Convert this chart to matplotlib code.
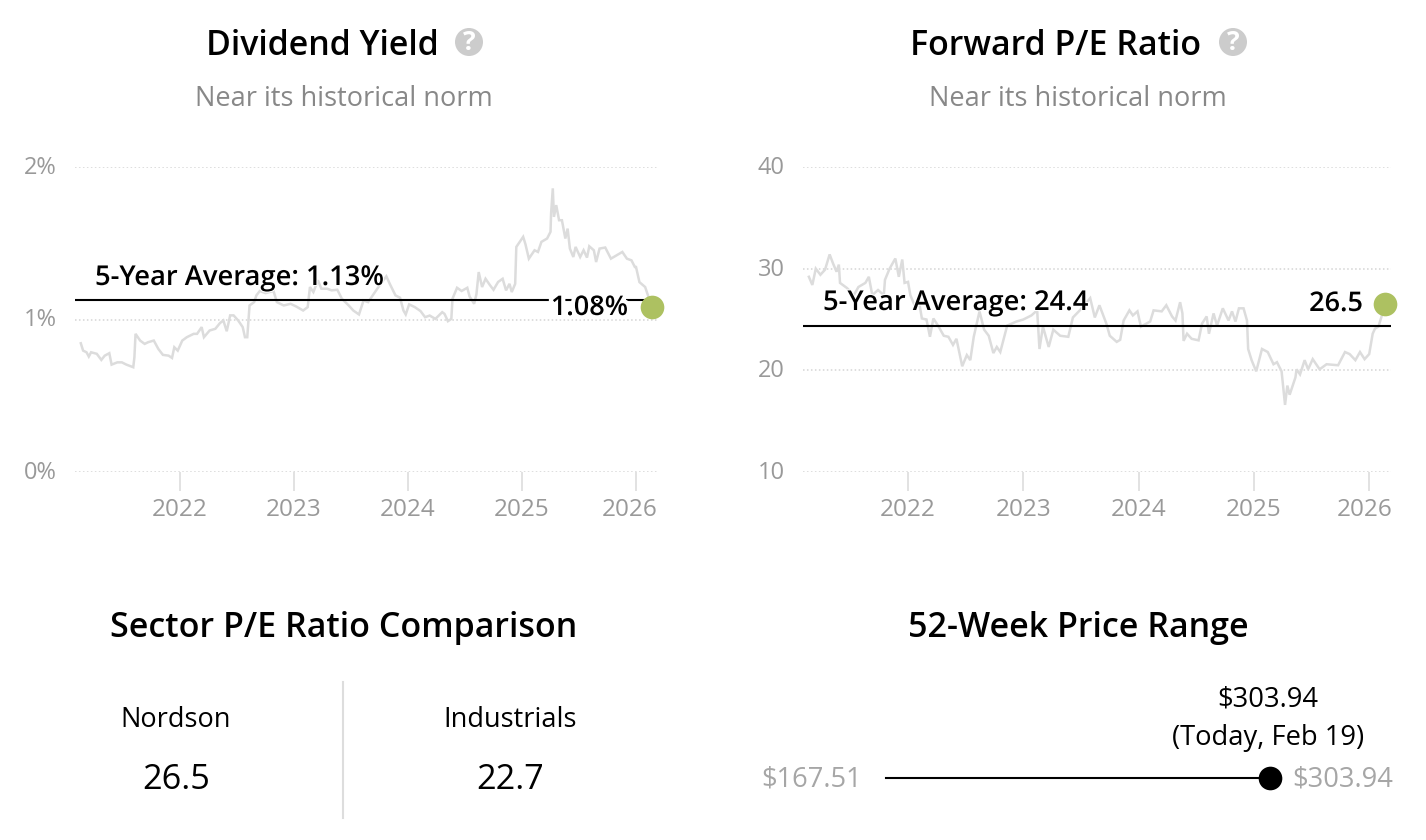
import matplotlib
matplotlib.use("Agg")
import matplotlib.pyplot as plt
import matplotlib.patheffects as pe
from matplotlib.patches import Circle
from matplotlib.transforms import ScaledTranslation

W = 1426
H = 840

plt.rcParams['font.family'] = ['Open Sans', 'DejaVu Sans']

years = [2022, 2023, 2024, 2025, 2026]

# dividend yield
div_dates = [2021.13, 2021.15, 2021.18, 2021.20, 2021.22, 2021.27, 2021.31, 2021.34, 2021.38, 2021.40,
             2021.45, 2021.49, 2021.53, 2021.59, 2021.60, 2021.61, 2021.65, 2021.69, 2021.72, 2021.77,
             2021.81, 2021.85, 2021.90, 2021.93, 2021.95, 2021.98, 2022.02, 2022.06, 2022.12, 2022.15,
             2022.19, 2022.21, 2022.26, 2022.31, 2022.35, 2022.38, 2022.41, 2022.44, 2022.47, 2022.51,
             2022.55, 2022.57, 2022.59, 2022.61, 2022.65, 2022.67, 2022.70, 2022.75, 2022.82, 2022.85,
             2022.91, 2022.97, 2023.02, 2023.08, 2023.12, 2023.14, 2023.17, 2023.21, 2023.24, 2023.29,
             2023.33, 2023.38, 2023.42, 2023.48, 2023.52, 2023.57, 2023.61, 2023.65, 2023.70, 2023.76,
             2023.81, 2023.84, 2023.89, 2023.93, 2023.96, 2023.98, 2024.01, 2024.06, 2024.11, 2024.15,
             2024.19, 2024.24, 2024.30, 2024.32, 2024.35, 2024.38, 2024.39, 2024.43, 2024.47, 2024.52,
             2024.54, 2024.58, 2024.60, 2024.62, 2024.65, 2024.68, 2024.72, 2024.75, 2024.79, 2024.83,
             2024.86, 2024.89, 2024.91, 2024.94, 2024.95, 2025.01, 2025.03, 2025.06, 2025.11, 2025.14,
             2025.17, 2025.22, 2025.25, 2025.255, 2025.27, 2025.28, 2025.30, 2025.325, 2025.35, 2025.38,
             2025.40, 2025.42, 2025.45, 2025.47, 2025.51, 2025.54, 2025.57, 2025.59, 2025.63, 2025.65,
             2025.68, 2025.73, 2025.78, 2025.83, 2025.88, 2025.92, 2025.96, 2025.99, 2026.00, 2026.03,
             2026.08, 2026.14]
div_values = [0.844, 0.796, 0.785, 0.757, 0.785, 0.775, 0.735, 0.763, 0.779, 0.704,
              0.719, 0.719, 0.704, 0.687, 0.752, 0.906, 0.862, 0.840, 0.851, 0.862,
              0.807, 0.768, 0.763, 0.748, 0.818, 0.796, 0.862, 0.884, 0.906, 0.906,
              0.950, 0.884, 0.928, 0.939, 0.976, 0.994, 0.923, 1.027, 1.027, 0.994,
              0.950, 0.884, 0.884, 1.092, 1.114, 1.158, 1.187, 1.173, 1.187, 1.114,
              1.092, 1.103, 1.085, 1.059, 1.081, 1.213, 1.180, 1.257, 1.202, 1.202,
              1.191, 1.195, 1.136, 1.092, 1.059, 1.033, 1.125, 1.114, 1.169, 1.234,
              1.283, 1.234, 1.158, 1.143, 1.059, 1.033, 1.099, 1.081, 1.055, 1.015,
              1.026, 1.004, 1.048, 1.037, 0.989, 1.004, 1.136, 1.208, 1.187, 1.208,
              1.151, 1.103, 1.165, 1.311, 1.213, 1.267, 1.224, 1.195, 1.246, 1.267,
              1.191, 1.234, 1.180, 1.234, 1.476, 1.542, 1.494, 1.399, 1.454, 1.443,
              1.509, 1.531, 1.575, 1.695, 1.860, 1.673, 1.750, 1.651, 1.651, 1.531,
              1.596, 1.465, 1.410, 1.476, 1.410, 1.454, 1.406, 1.480, 1.454, 1.377,
              1.465, 1.472, 1.399, 1.421, 1.443, 1.399, 1.388, 1.344, 1.344, 1.245,
              1.213, 1.08]
div_avg = 1.13
div_ticks = [0, 1, 2]
div_ticklabels = ['0%', '1%', '2%']

# forward p/e
pe_dates = [2021.14, 2021.17, 2021.20, 2021.24, 2021.28, 2021.32, 2021.35, 2021.38, 2021.40, 2021.41,
            2021.47, 2021.53, 2021.57, 2021.63, 2021.66, 2021.69, 2021.74, 2021.79, 2021.80, 2021.84,
            2021.89, 2021.92, 2021.95, 2021.97, 2022.00, 2022.02, 2022.06, 2022.09, 2022.12, 2022.16,
            2022.19, 2022.22, 2022.26, 2022.31, 2022.35, 2022.39, 2022.42, 2022.47, 2022.51, 2022.54,
            2022.57, 2022.62, 2022.66, 2022.70, 2022.74, 2022.77, 2022.80, 2022.86, 2022.94, 2023.00,
            2023.07, 2023.12, 2023.14, 2023.17, 2023.22, 2023.26, 2023.32, 2023.39, 2023.43, 2023.49,
            2023.58, 2023.62, 2023.66, 2023.72, 2023.75, 2023.81, 2023.84, 2023.87, 2023.92, 2023.95,
            2023.99, 2024.02, 2024.10, 2024.13, 2024.20, 2024.24, 2024.29, 2024.32, 2024.36, 2024.38,
            2024.39, 2024.42, 2024.46, 2024.52, 2024.55, 2024.59, 2024.61, 2024.65, 2024.68, 2024.73,
            2024.78, 2024.81, 2024.84, 2024.87, 2024.91, 2024.94, 2024.95, 2024.98, 2025.02, 2025.07,
            2025.12, 2025.17, 2025.20, 2025.24, 2025.255, 2025.27, 2025.29, 2025.31, 2025.36, 2025.37,
            2025.40, 2025.44, 2025.47, 2025.51, 2025.57, 2025.63, 2025.73, 2025.79, 2025.83, 2025.88,
            2025.92, 2025.96, 2026.00, 2026.03, 2026.05, 2026.08, 2026.11, 2026.14]
pe_values = [29.2, 28.4, 30.0, 29.4, 29.9, 31.4, 30.5, 29.7, 30.4, 28.6,
             28.1, 27.4, 28.2, 28.6, 29.2, 27.4, 27.9, 27.4, 28.9, 30.0,
             31.0, 29.2, 30.9, 28.6, 28.7, 27.4, 26.3, 27.1, 25.1, 25.0,
             23.3, 25.1, 24.4, 23.4, 23.3, 22.5, 23.1, 20.4, 21.5, 21.0,
             23.3, 25.8, 24.0, 23.4, 21.7, 22.3, 21.8, 24.4, 24.8, 25.0,
             25.4, 25.9, 22.1, 24.3, 22.3, 24.0, 23.4, 23.3, 25.2, 25.9,
             27.1, 25.2, 26.4, 24.6, 23.4, 22.8, 23.0, 24.9, 25.9, 25.4,
             25.8, 24.3, 24.8, 25.9, 25.8, 26.4, 25.3, 24.9, 26.7, 25.6,
             22.9, 23.6, 23.1, 22.95, 24.6, 25.3, 23.6, 25.6, 24.4, 26.1,
             24.9, 25.8, 24.8, 26.1, 26.1, 24.9, 22.1, 21.0, 19.9, 22.1,
             21.8, 20.6, 20.8, 19.9, 18.3, 16.6, 18.5, 17.6, 19.3, 20.1,
             19.6, 21.0, 20.1, 21.1, 20.1, 20.6, 20.5, 21.8, 21.6, 21.0,
             21.8, 21.1, 21.6, 23.6, 24.1, 24.3, 25.4, 26.5]
pe_avg = 24.4
pe_ticks = [10, 20, 30, 40]
pe_ticklabels = ['10', '20', '30', '40']

sector_names = ['Nordson', 'Industrials']
sector_pe = [26.5, 22.7]

price_low = 167.51
price_high = 303.94
price_now = 303.94

TICK_GRAY = '#999999'
LINE_GRAY = '#dcdcdc'
GRID_GRAY = '#d4d4d4'
DOT_GREEN = '#adc161'
halo = [pe.withStroke(linewidth=6, foreground='white')]
thin_halo = [pe.withStroke(linewidth=1.5, foreground='white')]


def add_px_axes(fig, left, top, right, bottom):
    return fig.add_axes([left / W, 1 - bottom / H, (right - left) / W, (bottom - top) / H])


def draw_history(fig, box, dates, values, avg, ticks, ticklabels, xlim, ylim, last_shift):
    ax = add_px_axes(fig, *box)
    ax.patch.set_alpha(0)
    ax.plot(dates, values, color=LINE_GRAY, lw=1.8, zorder=1, solid_joinstyle='miter')
    ax.axhline(avg, color='black', lw=1.5, zorder=2)
    ax.scatter([dates[-1]], [values[-1]], s=290, color=DOT_GREEN, zorder=5, clip_on=False, linewidths=0)
    ax.set_xlim(xlim)
    ax.set_ylim(ylim)
    for s in ax.spines.values():
        s.set_visible(False)
    ax.set_yticks(ticks)
    ax.set_yticklabels(ticklabels)
    ax.grid(axis='y', color=GRID_GRAY, lw=1.1, ls=(0, (1, 1.6)), zorder=0)
    ax.set_axisbelow(True)
    ax.tick_params(axis='y', length=0, pad=13, labelsize=17, labelcolor=TICK_GRAY)
    for lab in ax.get_yticklabels():
        lab.set_transform(lab.get_transform() + ScaledTranslation(0, 2 / 100, fig.dpi_scale_trans))
    ax.set_xticks(years)
    ax.set_xticklabels([str(y) for y in years])
    ax.tick_params(axis='x', length=13.5, width=1.4, color='#e2e2e2', pad=5, labelsize=17.5,
                   labelcolor=TICK_GRAY)
    # last year label is pushed in so it ends with the axis
    lab = ax.get_xticklabels()[-1]
    lab.set_transform(lab.get_transform() + ScaledTranslation(last_shift / 100, 0, fig.dpi_scale_trans))
    return ax


fig = plt.figure(figsize=(W / 100, H / 100), dpi=100, facecolor='white')

draw_history(fig, (75, 167, 657, 472), div_dates, div_values, div_avg, div_ticks, div_ticklabels,
             (2021.079, 2026.184), (0, 2), -6)
draw_history(fig, (803, 167, 1391, 472), pe_dates, pe_values, pe_avg, pe_ticks, pe_ticklabels,
             (2021.089, 2026.189), (10, 40), -5)

# page level text goes on one axes in pixel coordinates
page = fig.add_axes([0, 0, 1, 1], zorder=3)
page.set_xlim(0, W)
page.set_ylim(H, 0)
page.axis('off')
page.patch.set_alpha(0)


def put(x, y, s, size, color='black', weight='normal', ha='center', effects=None):
    page.text(x, y + 3, s, fontsize=size, color=color, fontweight=weight, ha=ha, va='center',
              path_effects=effects)


def help_icon(x, y):
    page.add_patch(Circle((x, y), 14, color='#cccccc', lw=0))
    page.text(x, y, '?', fontsize=19, color='white', fontweight='bold', ha='center', va='center')


put(322, 43, 'Dividend Yield', 24.4, weight=600)
help_icon(469, 42)
put(344, 96, 'Near its historical norm', 19.5, color='#888888')
put(1055, 43, 'Forward P/E Ratio', 24.4, weight=600)
help_icon(1233, 42)
put(1078, 96, 'Near its historical norm', 19.5, color='#888888')

put(95, 275, '5-Year Average: %.2f%%' % div_avg, 19.7, weight=600, ha='left', effects=thin_halo)
put(628, 305, '%.2f%%' % div_values[-1], 19.5, weight=600, ha='right', effects=halo)
put(823, 300, '5-Year Average: %.1f' % pe_avg, 19.7, weight=600, ha='left', effects=thin_halo)
put(1363, 301, '%.1f' % pe_values[-1], 19.5, weight=600, ha='right', effects=halo)

put(344, 625, 'Sector P/E Ratio Comparison', 24.5, weight=600)
put(1078, 625, '52-Week Price Range', 24.5, weight=600)

page.plot([343, 343], [682, 818], color='#dddddd', lw=1.5)
for x, name, val in zip([176, 510], sector_names, sector_pe):
    put(x, 717, name, 19.5)
    put(x, 777, '%.1f' % val, 24.7)

# price range bar
bar = add_px_axes(fig, 886, 758, 1270, 798)
bar.axis('off')
bar.set_xlim(price_low, price_high)
bar.set_ylim(-1, 1)
bar.plot([price_low, price_high], [0, 0], color='black', lw=1.5, clip_on=False)
bar.scatter([price_now], [0], s=290, color='black', clip_on=False, zorder=3, linewidths=0)

put(1268, 697, '$%.2f' % price_now, 19.7)
put(1268, 735, '(Today, Feb 19)', 19.7)
put(862, 776, '$%.2f' % price_low, 19.6, color='#a6a6a6', ha='right')
put(1292, 776, '$%.2f' % price_high, 19.6, color='#a6a6a6', ha='left')

fig.savefig('out.png', dpi=100, facecolor='white')
